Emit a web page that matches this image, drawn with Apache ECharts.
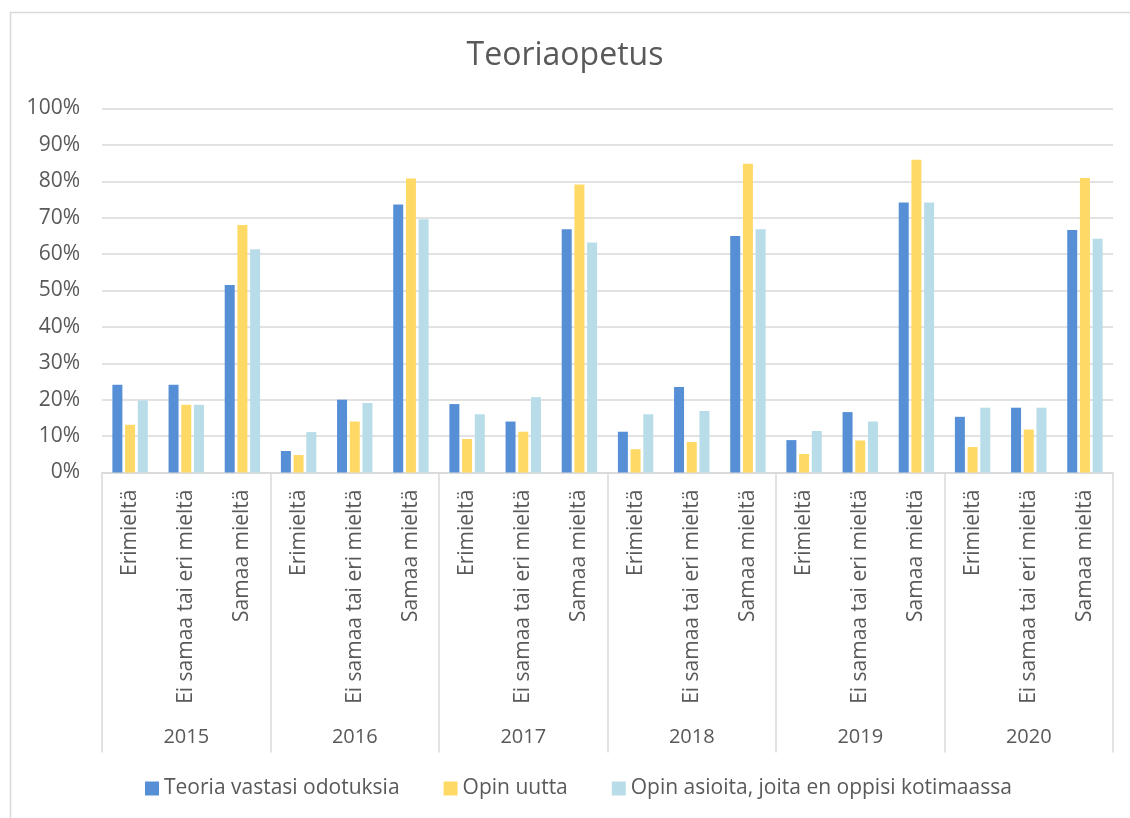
<!DOCTYPE html>
<html>
<head>
<meta charset="utf-8">
<script src="https://cdn.jsdelivr.net/npm/echarts@6/dist/echarts.min.js"></script>
<style>html,body{margin:0;padding:0;background:#fff;}#c{width:1130px;height:818px;}</style>
</head>
<body>
<div id="c"></div>
<script>
const years = ['2015', '2016', '2017', '2018', '2019', '2020'];
const answers = ['Erimieltä', 'Ei samaa tai eri mieltä', 'Samaa mieltä'];
const seriesNames = ['Teoria vastasi odotuksia', 'Opin uutta', 'Opin asioita, joita en oppisi kotimaassa'];
const teoria = [24.1, 24.1, 51.5, 5.9, 20.0, 73.6, 18.8, 14.0, 66.8, 11.2, 23.5, 65.0, 8.9, 16.6, 74.2, 15.3, 17.8, 66.6];
const uutta = [13.1, 18.6, 68.0, 4.8, 14.0, 80.8, 9.2, 11.2, 79.1, 6.4, 8.4, 84.8, 5.1, 8.8, 85.9, 7.0, 11.8, 80.9];
const asioita = [19.8, 18.6, 61.3, 11.1, 19.1, 69.6, 16.0, 20.7, 63.2, 16.0, 16.9, 66.8, 11.4, 14.0, 74.2, 17.8, 17.8, 64.2];
const yTicks = [0, 10, 20, 30, 40, 50, 60, 70, 80, 90, 100];

const colors = ['#568FD5', '#FFD966', '#B8DDE8'];
const categories = [];
years.forEach(y => answers.forEach(a => categories.push(a)));
const font = 'Open Sans';
const grey = '#595959';
const lineGrey = '#D9D9D9';

const chart = echarts.init(document.getElementById('c'));
const values = [teoria, uutta, asioita];
chart.setOption({
  animation: false,
  color: colors,
  graphic: [{
    type: 'rect', left: 8, top: 10,
    shape: {width: 1200, height: 900},
    style: {fill: 'none', stroke: lineGrey, lineWidth: 1.5},
    silent: true, z: -1
  }],
  title: {
    text: 'Teoriaopetus', left: 'center', top: 35,
    textStyle: {fontFamily: font, fontSize: 32, fontWeight: 'normal', color: grey}
  },
  legend: {
    data: seriesNames, left: 140, top: 773,
    icon: 'rect', itemWidth: 14, itemHeight: 14, itemGap: 44,
    textStyle: {fontFamily: font, fontSize: 21, color: grey}
  },
  grid: {left: 102, right: 17, top: 108.5, bottom: 345.5, containLabel: false},
  xAxis: [{
    type: 'category', data: categories, position: 'bottom',
    axisLine: {lineStyle: {color: lineGrey, width: 1.5}},
    axisTick: {show: false},
    axisLabel: {interval: 0, rotate: 90, margin: 17, fontFamily: font, fontSize: 21, color: grey}
  }, {
    type: 'category', data: years, position: 'bottom',
    axisLine: {show: false},
    axisTick: {show: true, length: 280, lineStyle: {color: lineGrey, width: 1.5}},
    axisLabel: {interval: 0, margin: 255, fontFamily: font, fontSize: 20, color: grey}
  }],
  yAxis: {
    type: 'value', min: 0, max: 100, interval: 10,
    axisLine: {show: false}, axisTick: {show: false},
    splitLine: {lineStyle: {color: lineGrey, width: 1.5}},
    axisLabel: {margin: 22, fontFamily: font, fontSize: 21, color: grey,
      formatter: v => yTicks.includes(v) ? v + '%' : ''}
  },
  series: seriesNames.map((n, i) => ({
    name: n, type: 'bar', data: values[i], xAxisIndex: 0,
    barWidth: 10, barGap: '27%'
  }))
});
</script>
</body>
</html>
